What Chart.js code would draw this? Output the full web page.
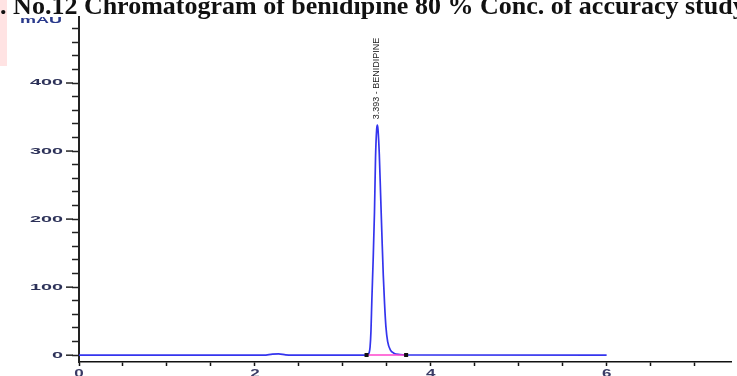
<!DOCTYPE html>
<html>
<head>
<meta charset="utf-8">
<script src="https://cdn.jsdelivr.net/npm/chart.js@4.4.1/dist/chart.umd.min.js"></script>
<style>
  html, body { margin: 0; padding: 0; background: #fff; overflow: hidden; }
  #wrap { position: relative; width: 737px; height: 376px; overflow: hidden; }
  #mark { position: absolute; left: 0; top: 0; width: 7px; height: 66px; background: #ffe3e3; }
  #title {
    position: absolute; top: -9px; left: -36px; white-space: nowrap; line-height: 26px;
    font: bold 26px "Liberation Serif", "Times New Roman", serif; color: #111;
  }
  canvas { position: absolute; left: 0; top: 0; }
</style>
</head>
<body>
<div id="wrap">
  <div id="mark"></div>
  <canvas id="myChart" width="737" height="376"></canvas>
  <div id="title">Fig. No.12 Chromatogram of benidipine 80 % Conc. of accuracy study</div>
</div>
<script>
// retention time (min) and detector response (mAU)
const times = [0, 2.10, 2.20, 2.27, 2.35, 2.42, 3.25, 3.28, 3.30, 3.31, 3.32, 3.33, 3.345, 3.36, 3.372, 3.385,
  3.393, 3.40, 3.415, 3.43, 3.445, 3.46, 3.475, 3.49, 3.51, 3.54, 3.58, 3.65, 3.72, 6.0];
const signal = [0, 0, 1.5, 2, 0.5, 0, 0, 0.5, 4, 12, 35, 80, 140, 210, 290, 332,
  338, 332, 295, 235, 175, 118, 75, 42, 20, 8, 3, 1, 0.3, 0];

// integration baseline start / end
const baseTimes = [3.27, 3.72];
const baseValues = [0.3, 0.3];

const peakTime = 3.393;
const peakHeight = 338;
const peakLabel = "3.393 - BENIDIPINE";

const yTickLabels = [0, 100, 200, 300, 400];
const xTickLabels = [0, 2, 4, 6];

const toPoints = (xs, ys) => xs.map((x, i) => ({ x: x, y: ys[i] }));

// wide, squat axis lettering like the instrument printout
function wideText(ctx, text, x, y, sx, align) {
  ctx.save();
  ctx.translate(x, y);
  ctx.scale(sx, 1);
  ctx.textAlign = align;
  ctx.fillText(text, 0, 0);
  ctx.restore();
}

const extras = {
  id: "extras",
  afterDraw(chart) {
    const { ctx, scales } = chart;
    const x = scales.x, y = scales.y;
    ctx.save();
    ctx.fillStyle = "#2c3158";
    ctx.font = "bold 9px 'Liberation Sans', Arial, sans-serif";
    ctx.textBaseline = "middle";
    // y labels + longer major ticks
    y.ticks.forEach((t) => {
      if (!yTickLabels.includes(t.value)) return;
      const py = y.getPixelForValue(t.value);
      wideText(ctx, String(t.value), 63, py, 2.2, "right");
      ctx.strokeStyle = "#222";
      ctx.lineWidth = 1.5;
      ctx.beginPath();
      ctx.moveTo(66, py);
      ctx.lineTo(y.right - 6, py);
      ctx.stroke();
    });
    // unit label above the y axis
    ctx.fillStyle = "#2a3a8c";
    wideText(ctx, "mAU", 62, 21, 2.0, "right");
    // x labels
    ctx.fillStyle = "#3a3c66";
    ctx.font = "bold 10px 'Liberation Sans', Arial, sans-serif";
    ctx.textBaseline = "top";
    x.ticks.forEach((t) => {
      if (!xTickLabels.includes(t.value)) return;
      wideText(ctx, String(t.value), x.getPixelForValue(t.value), 369, 1.7, "center");
    });
    // peak label, rotated
    ctx.translate(x.getPixelForValue(peakTime) - 1, y.getPixelForValue(peakHeight) - 6);
    ctx.rotate(-Math.PI / 2);
    ctx.fillStyle = "#222";
    ctx.font = "9px 'Liberation Sans Narrow', 'Liberation Sans', Arial, sans-serif";
    ctx.textAlign = "left";
    ctx.textBaseline = "middle";
    ctx.fillText(peakLabel, 0, 0);
    ctx.restore();
  }
};

const ctx = document.getElementById("myChart").getContext("2d");
const myChart = new Chart(ctx, {
  type: "line",
  data: {
    datasets: [
      {
        label: "baseline",
        data: toPoints(baseTimes, baseValues),
        borderColor: "#ff44cc",
        borderWidth: 1.5,
        pointStyle: "rect",
        pointRadius: 1.8,
        pointBackgroundColor: "#111",
        pointBorderColor: "#111",
      },
      {
        label: "signal",
        data: toPoints(times, signal),
        borderColor: "#3434ee",
        borderWidth: 1.7,
        pointRadius: 0,
        cubicInterpolationMode: "monotone",
        fill: false,
      },
    ],
  },
  plugins: [extras],
  options: {
    responsive: false,
    animation: false,
    layout: { padding: { top: 17, left: 0, right: 0, bottom: 0 } },
    plugins: { legend: { display: false }, tooltip: { enabled: false } },
    scales: {
      x: {
        type: "linear",
        min: 0,
        max: 7.42,
        afterFit: (s) => { s.height = 14; },
        border: { display: true, color: "#111", width: 1.5 },
        grid: { drawOnChartArea: false, tickLength: 4, tickColor: "#111", tickWidth: 1.5 },
        ticks: { display: false, stepSize: 0.5, includeBounds: false, autoSkip: false },
      },
      y: {
        min: -10,
        max: 497,
        afterFit: (s) => { s.width = 79; },
        border: { display: true, color: "#222", width: 2 },
        grid: { drawOnChartArea: false, tickLength: 7, tickColor: "#222", tickWidth: 1.5 },
        ticks: { display: false, stepSize: 20, includeBounds: false, autoSkip: false },
      },
    },
  },
});
</script>
</body>
</html>
